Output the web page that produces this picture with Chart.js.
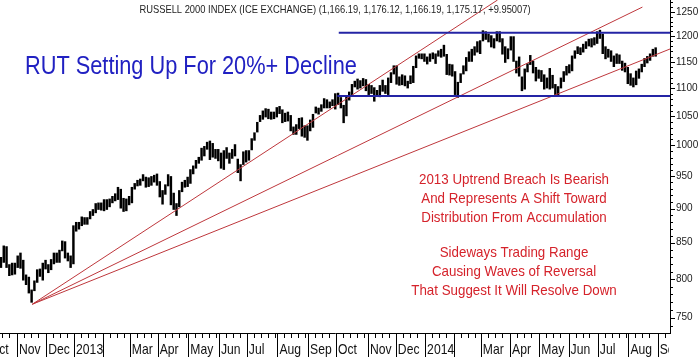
<!DOCTYPE html>
<html>
<head>
<meta charset="utf-8">
<script src="https://cdn.jsdelivr.net/npm/chart.js@4.4.1/dist/chart.umd.min.js"></script>
<style>
html,body{margin:0;padding:0;background:#fff;}
canvas{display:block;}
</style>
</head>
<body>
<canvas id="c" width="700" height="357"></canvas>
<script>
// ---- DATA ----
// trading-day index 0 = 1 Nov 2012; each price bucket spans two trading days
const firstDay = -12;
const lows = [815,822,815,804,805,806,815,814,798,792,781,769,784,795,803,798,813,808,812,820,822,822,838,828,824,815,820,
866,869,874,876,876,884,889,893,898,897,896,898,902,908,911,913,900,895,896,905,908,929,934,935,942,932,933,935,940,935,
917,906,921,934,905,898,889,902,925,932,933,938,953,962,970,975,982,993,976,980,978,974,962,960,978,970,978,982,955,942,
968,972,975,992,1008,1022,1040,1044,1048,1045,1044,1045,1048,1054,1038,1040,1041,1024,1018,1018,1028,1015,1013,1008,1024,
1030,1055,1053,1058,1064,1064,1064,1068,1062,1070,1064,1038,1050,1078,1088,1102,1098,1100,1104,1095,1088,1090,1076,1085,
1084,1094,1090,1088,1110,1126,1107,1105,1106,1104,1100,1108,1110,1138,1156,1155,1150,1145,1150,1155,1146,1160,1158,1160,
1125,1124,1122,1088,1083,1110,1126,1132,1150,1150,1162,1168,1165,1190,1193,1188,1178,1176,1190,1188,1164,1148,1155,1172,
1150,1128,1122,1095,1098,1130,1144,1128,1113,1118,1112,1098,1100,1098,1100,1088,1086,1100,1112,1124,1128,1132,1156,1165,
1163,1168,1175,1180,1178,1182,1185,1195,1165,1155,1158,1150,1140,1146,1146,1133,1130,1108,1105,1102,1106,1118,1130,1140,
1147,1152,1160,1160];
const highs = [830,846,845,820,822,822,832,836,826,806,803,786,798,813,814,822,826,820,827,836,836,840,853,852,836,832,875,
880,880,888,887,887,896,899,908,909,909,914,914,915,919,923,933,930,916,915,919,933,939,944,946,953,949,948,950,952,954,
942,928,937,953,950,924,908,928,941,944,949,961,967,976,981,996,999,1006,1008,1004,994,994,988,992,997,988,994,1002,978,969,
990,992,992,1012,1022,1040,1052,1060,1064,1063,1058,1058,1066,1068,1062,1056,1058,1052,1032,1036,1047,1048,1034,1034,1044,
1054,1067,1065,1071,1082,1080,1076,1080,1091,1092,1084,1070,1087,1094,1108,1114,1118,1115,1119,1117,1108,1106,1102,1097,
1106,1116,1106,1120,1130,1143,1143,1122,1126,1124,1114,1124,1142,1162,1166,1166,1166,1160,1166,1168,1166,1172,1175,1183,
1165,1146,1145,1132,1112,1128,1143,1159,1170,1175,1180,1190,1192,1212,1210,1205,1202,1196,1210,1210,1196,1180,1176,1200,
1200,1152,1160,1122,1137,1147,1163,1152,1140,1135,1134,1126,1120,1138,1125,1108,1104,1120,1132,1142,1145,1162,1172,1180,
1178,1185,1190,1195,1196,1198,1210,1213,1205,1180,1175,1172,1162,1166,1164,1152,1148,1140,1128,1120,1133,1137,1146,1157,
1161,1166,1175,1178];

// month boundaries (trading-day index) and their axis labels
const monthTicks  = [-21,0,21,41,62,81,101,123,145,165,187,209,229,252,272,293,314,333,354,375,396,417,439,460];
const monthLabels = ['Oct','Nov','Dec','2013','','Mar','Apr','May','Jun','Jul','Aug','Sep','Oct','Nov','Dec','2014','','Mar','Apr','May','Jun','Jul','Aug','Sep'];
const yTickValues = [750,800,850,900,950,1000,1050,1100,1150,1200,1250];

// fan trend lines from the Nov-2012 low
const pivotDay = 11, pivotValue = 767;
const fanEndDays = [345, 449, 469];
const fanEndValues = [1275, 1260, 1175];
// trading range lines
const rangeStartDays = [231, 230];
const rangeEndDay = 469;
const rangeValues = [1207, 1086];

const FONT = "'Liberation Sans', Arial, sans-serif";

const bars = lows.map((lo, k) => ({x: firstDay + 2 * k + 0.5, y: [lo, highs[k]]}));

const datasets = [{
  type: 'bar', data: bars, backgroundColor: '#000', borderWidth: 0,
  barPercentage: 0.88, categoryPercentage: 1, order: 3
}];
fanEndDays.forEach((d, j) => datasets.push({
  type: 'line', data: [{x: pivotDay, y: pivotValue}, {x: d, y: fanEndValues[j]}],
  borderColor: 'rgb(190,55,60)', borderWidth: 1, pointRadius: 0, order: 2
}));
rangeValues.forEach((v, j) => datasets.push({
  type: 'line', data: [{x: rangeStartDays[j], y: v}, {x: rangeEndDay, y: v}],
  borderColor: 'rgb(36,36,165)', borderWidth: 2, pointRadius: 0, order: 1
}));

function sText(ctx, text, x, y, font, color, sx, align) {
  ctx.save();
  ctx.font = font; ctx.fillStyle = color; ctx.textAlign = align; ctx.textBaseline = 'alphabetic';
  ctx.translate(x, y); ctx.scale(sx, 1);
  ctx.fillText(text, 0, 0);
  ctx.restore();
}

const decor = {
  id: 'decor',
  afterDraw(chart) {
    const ctx = chart.ctx, xs = chart.scales.x, ys = chart.scales.y, a = chart.chartArea;
    ctx.save();
    ctx.strokeStyle = '#000'; ctx.lineWidth = 1;
    // y ticks: every 10, long at 50
    ctx.beginPath();
    for (let v = 740; v <= 1280; v += 10) {
      const py = Math.round(ys.getPixelForValue(v)) + 0.5;
      if (py < a.top || py > a.bottom) continue;
      const len = (v % 50 === 0) ? 5 : 3;
      ctx.moveTo(a.right, py); ctx.lineTo(a.right + len, py);
    }
    // x ticks: month separators and weekly minor ticks
    for (let j = 0; j < monthTicks.length; j++) {
      const px = Math.round(xs.getPixelForValue(monthTicks[j])) + 0.5;
      if (px >= a.left && px <= a.right) { ctx.moveTo(px, a.bottom); ctx.lineTo(px, chart.height); }
      const next = j + 1 < monthTicks.length ? monthTicks[j + 1] : monthTicks[j] + 21;
      for (let d = monthTicks[j] + 5; d < next - 1; d += 5) {
        const qx = Math.round(xs.getPixelForValue(d)) + 0.5;
        if (qx < a.left || qx > a.right) continue;
        ctx.moveTo(qx, a.bottom); ctx.lineTo(qx, a.bottom + 5);
      }
    }
    ctx.stroke();
    // month labels on the x scale (left aligned after each month boundary), clipped to plot width
    ctx.save();
    ctx.beginPath(); ctx.rect(a.left, a.bottom, a.right - a.left - 1, chart.height - a.bottom); ctx.clip();
    monthTicks.forEach((m, j) => {
      if (!monthLabels[j]) return;
      sText(ctx, monthLabels[j], xs.getPixelForValue(m) + 2, a.bottom + 21, '15px ' + FONT, '#111', 0.81, 'left');
    });
    ctx.restore();
    // texts
    sText(ctx, 'RUSSELL 2000 INDEX (ICE EXCHANGE) (1,166.19, 1,176.12, 1,166.19, 1,175.17, +9.95007)',
          335, 12.5, '11px ' + FONT, '#222', 0.85, 'center');
    sText(ctx, 'RUT Setting Up For 20%+ Decline', 25, 74, '25px ' + FONT, '#2121c2', 0.87, 'left');
    const red = '#d5232b';
    [['2013 Uptrend Breach Is Bearish', 184], ['And Represents A Shift Toward', 203],
     ['Distribution From Accumulation', 222], ['Sideways Trading Range', 257],
     ['Causing Waves of Reversal', 276], ['That Suggest It Will Resolve Down', 295]].forEach(([t, y]) =>
      sText(ctx, t, 514, y, '15px ' + FONT, red, 0.89, 'center'));
    ctx.restore();
  }
};

new Chart(document.getElementById('c'), {
  type: 'bar',
  data: {datasets},
  plugins: [decor],
  options: {
    responsive: false, devicePixelRatio: 1, animation: false,
    layout: {padding: 0},
    plugins: {legend: {display: false}, title: {display: false}, tooltip: {enabled: false}},
    scales: {
      x: {
        type: 'linear', position: 'bottom', min: -12.2, max: 468.8, offset: false,
        grid: {display: false, drawTicks: false, offset: false},
        border: {display: true, color: '#000', width: 1},
        ticks: {display: false},
        afterBuildTicks: (s) => { s.ticks = monthTicks.map(m => ({value: m})).filter(t => t.value >= s.min && t.value <= s.max); },
        afterFit: (s) => { s.height = 24; s.paddingLeft = 0; s.paddingRight = 0; }
      },
      y: {
        type: 'logarithmic', position: 'right', min: 731, max: 1275,
        grid: {display: false, drawTicks: false},
        border: {display: true, color: '#000', width: 1},
        ticks: {padding: 6, color: '#222', font: {family: FONT, size: 10}, callback: (v) => String(v)},
        afterBuildTicks: (s) => { s.ticks = yTickValues.map(v => ({value: v})); },
        afterFit: (s) => { s.width = 30; s.paddingTop = 0; s.paddingBottom = 0; }
      }
    }
  }
});
</script>
</body>
</html>
